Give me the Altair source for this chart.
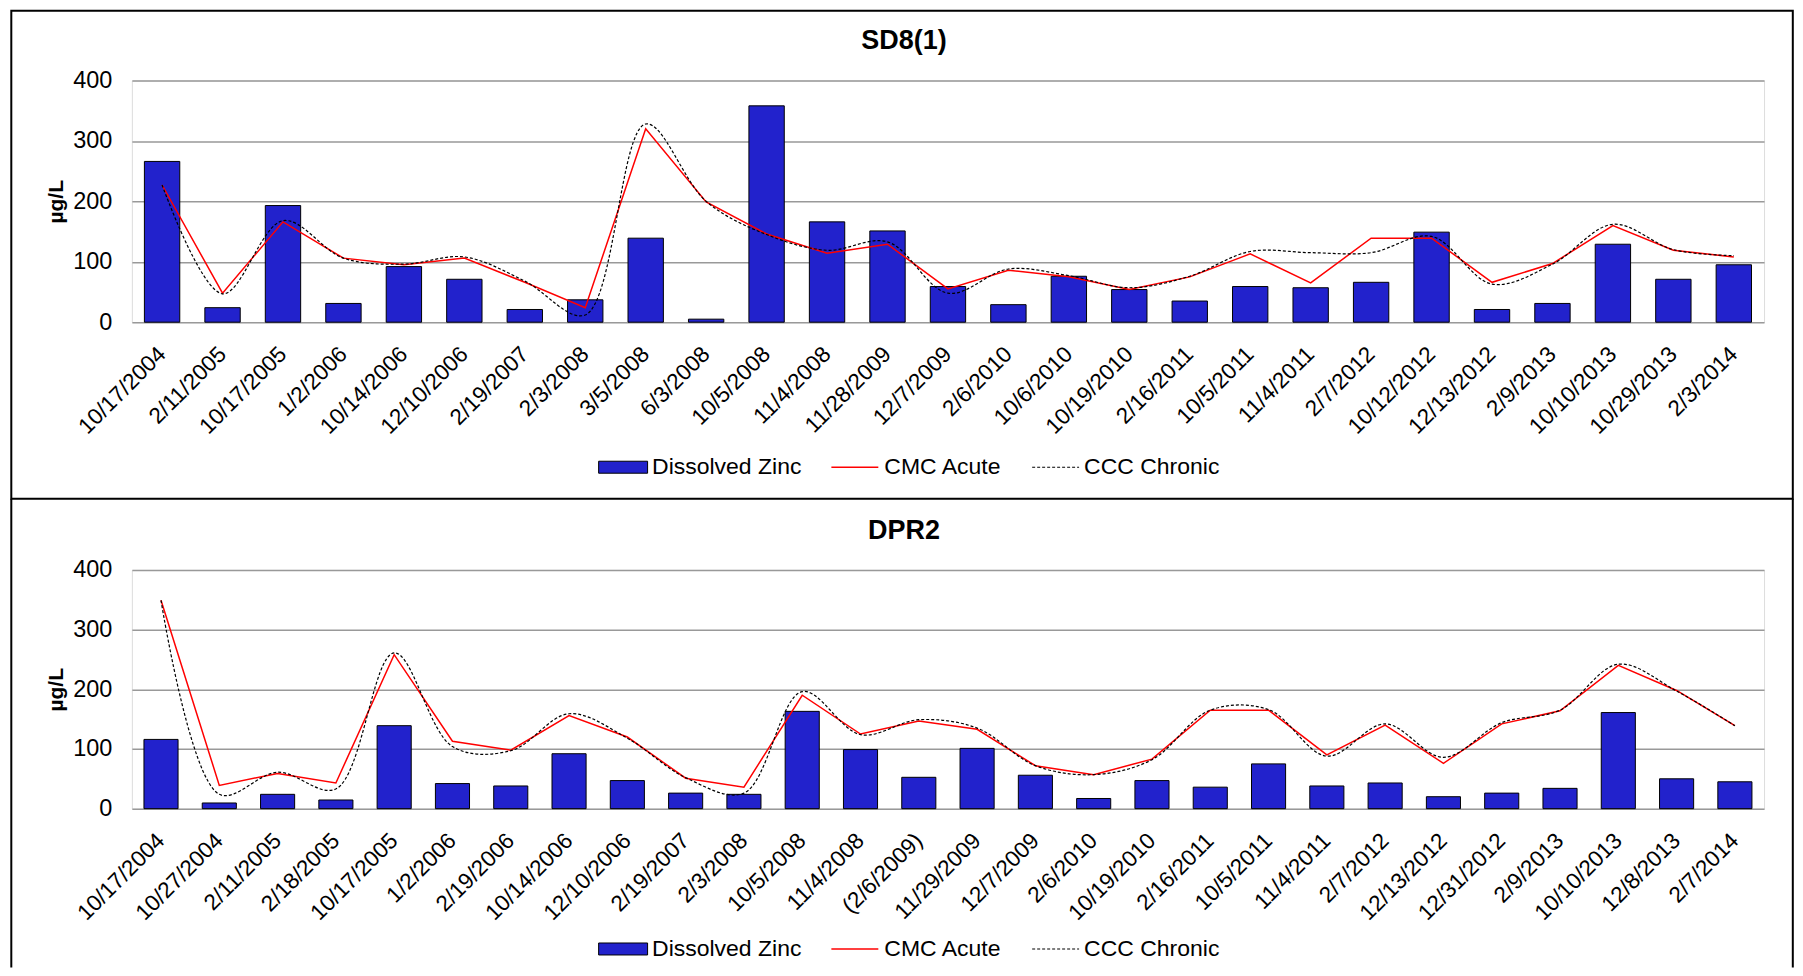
import altair as alt
import pandas as pd

# ---------------- data ----------------
sd8_dates = ["10/17/2004", "2/11/2005", "10/17/2005", "1/2/2006", "10/14/2006", "12/10/2006",
             "2/19/2007", "2/3/2008", "3/5/2008", "6/3/2008", "10/5/2008", "11/4/2008",
             "11/28/2009", "12/7/2009", "2/6/2010", "10/6/2010", "10/19/2010", "2/16/2011",
             "10/5/2011", "11/4/2011", "2/7/2012", "10/12/2012", "12/13/2012", "2/9/2013",
             "10/10/2013", "10/29/2013", "2/3/2014"]
sd8_zinc = [266, 24, 193, 31, 92, 71, 21, 37, 139, 5, 358, 166, 151, 59, 29, 76, 54, 35,
            59, 57, 66, 149, 21, 31, 129, 71, 95]
sd8_cmc = [227, 48, 166, 106, 95, 106, 66, 24, 320, 199, 146, 114, 129, 55, 86, 75, 54, 75,
           113, 65, 139, 139, 66, 97, 160, 119, 108]
sd8_ccc = [227, 47, 168, 106, 96, 108, 68, 12, 328, 200, 145, 119, 133, 48, 88, 77, 57, 76,
           117, 115, 115, 142, 63, 96, 162, 120, 110]

dpr_dates = ["10/17/2004", "10/27/2004", "2/11/2005", "2/18/2005", "10/17/2005", "1/2/2006",
             "2/19/2006", "10/14/2006", "12/10/2006", "2/19/2007", "2/3/2008", "10/5/2008",
             "11/4/2008", "(2/6/2009)", "11/29/2009", "12/7/2009", "2/6/2010", "10/19/2010",
             "2/16/2011", "10/5/2011", "11/4/2011", "2/7/2012", "12/13/2012", "12/31/2012",
             "2/9/2013", "10/10/2013", "12/8/2013", "2/7/2014"]
dpr_zinc = [116, 9.5, 24, 14.5, 139, 42, 38, 92, 47, 26, 24, 163, 99, 52.5, 101, 56, 17, 47,
            36, 75, 38, 43, 20, 26, 34, 161, 50, 45]
dpr_cmc = [349, 39, 59, 43, 258, 113, 98, 156, 120, 51, 36, 190, 125, 147, 133, 72, 57, 83,
           165, 165, 90, 140, 76, 142, 164, 240, 198, 139]
dpr_ccc = [349, 24, 61, 33, 261, 104, 97, 159, 118, 52, 26, 196, 124, 149, 135, 72, 57, 82,
           165, 166, 88, 142, 86, 144, 165, 242, 197, 139]

panel_titles = ["SD8(1)", "DPR2"]
legend_labels = ["Dissolved Zinc", "CMC Acute", "CCC Chronic"]
y_ticks = [0, 100, 200, 300, 400]

# ---------------- style ----------------
FONT = "Liberation Sans"
BLUE = "#2222CC"
W = 1634
H1 = 242
H2 = 239
PAD = 0.415
FRAME_L = -120.7
FRAME_R = 1662.8
XLABEL_FS = 22.5
YLABEL_FS = 23.5
LEGEND_FS = 23
TITLE_FS = 27


def one_row():
    return alt.Chart(pd.DataFrame({"k": [0]}))


def panel(title, dates, zinc, cmc, ccc, h, legend_y, frame_top, frame_bottom, closed):
    df = pd.DataFrame({"date": dates, "zinc": zinc, "cmc": cmc, "ccc": ccc})
    xenc = alt.X(
        "date:N", sort=dates,
        scale=alt.Scale(paddingInner=PAD, paddingOuter=PAD / 2),
        axis=alt.Axis(title=None, labelAngle=-45, labelAlign="right", labelBaseline="middle",
                      labelPadding=28, ticks=False, domain=False, grid=False,
                      labelFontSize=XLABEL_FS, labelColor="black", labelOverlap=False,
                      labelFont=FONT),
    )
    yscale = alt.Scale(domain=[0, 400], nice=False, zero=True)
    yaxis = alt.Axis(title="µg/L", values=y_ticks, ticks=False, domain=False,
                     labelFontSize=YLABEL_FS, labelColor="black", labelPadding=20, labelFont=FONT,
                     titleFontSize=21, titleFontWeight="bold", titleColor="black",
                     titlePadding=6, titleFont=FONT,
                     gridColor="#999999", gridWidth=1.5)
    base = alt.Chart(df)
    bars = base.mark_bar(color=BLUE, stroke="black", strokeWidth=1).encode(
        x=xenc, y=alt.Y("zinc:Q", scale=yscale, axis=yaxis))
    cmc_line = base.mark_line(color="#FF0000", strokeWidth=1.5).encode(
        x=xenc, y=alt.Y("cmc:Q", scale=yscale, axis=yaxis))
    ccc_line = base.mark_line(color="black", strokeWidth=1.2, strokeDash=[3, 2],
                              interpolate="catmull-rom").encode(
        x=xenc, y=alt.Y("ccc:Q", scale=yscale, axis=yaxis))

    title_mark = one_row().mark_text(text=title, font=FONT, fontSize=TITLE_FS, fontWeight="bold",
                                     align="center", baseline="middle", color="black").encode(
        x=alt.value(773), y=alt.value(-39.3))

    # legend
    ox = 130.7
    leg_rect = one_row().mark_rect(fill=BLUE, stroke="black", strokeWidth=1).encode(
        x=alt.value(598 - ox), x2=alt.value(647 - ox),
        y=alt.value(legend_y - 6), y2=alt.value(legend_y + 6))
    leg_red = one_row().mark_rule(color="#FF0000", strokeWidth=1.5).encode(
        x=alt.value(831 - ox), x2=alt.value(878 - ox), y=alt.value(legend_y))
    leg_dash = one_row().mark_rule(color="black", strokeWidth=1.2, strokeDash=[3, 2]).encode(
        x=alt.value(1032 - ox), x2=alt.value(1079 - ox), y=alt.value(legend_y))
    leg_texts = []
    for lab, tx in zip(legend_labels, [651.5, 884, 1084]):
        leg_texts.append(one_row().mark_text(text=lab, font=FONT, fontSize=LEGEND_FS, align="left",
                                             baseline="middle", color="black").encode(
            x=alt.value(tx - ox), y=alt.value(legend_y)))

    if closed:
        frame = [one_row().mark_rect(fillOpacity=0, stroke="black", strokeWidth=2).encode(
            x=alt.value(FRAME_L), x2=alt.value(FRAME_R),
            y=alt.value(frame_top), y2=alt.value(frame_bottom))]
    else:
        frame = [
            one_row().mark_rule(color="black", strokeWidth=2).encode(
                x=alt.value(FRAME_L), y=alt.value(frame_top), y2=alt.value(frame_bottom)),
            one_row().mark_rule(color="black", strokeWidth=2).encode(
                x=alt.value(FRAME_R), y=alt.value(frame_top), y2=alt.value(frame_bottom)),
        ]

    return alt.layer(*frame, bars, cmc_line, ccc_line, title_mark,
                     leg_rect, leg_red, leg_dash, *leg_texts).properties(width=W, height=h)


top = panel(panel_titles[0], sd8_dates, sd8_zinc, sd8_cmc, sd8_ccc, H1,
            387.2, -69.8, 418.7, True)
bottom = panel(panel_titles[1], dpr_dates, dpr_zinc, dpr_cmc, dpr_ccc, H2,
               379.5, -71.3, 398, False)

chart = alt.vconcat(top, bottom, spacing=248, bounds="flush").properties(
    padding={"left": 1, "top": 0, "right": 0, "bottom": 0}
).configure_view(strokeWidth=0).configure(font=FONT)

chart.save("out.html", embed_options={"renderer": "svg", "actions": False})
